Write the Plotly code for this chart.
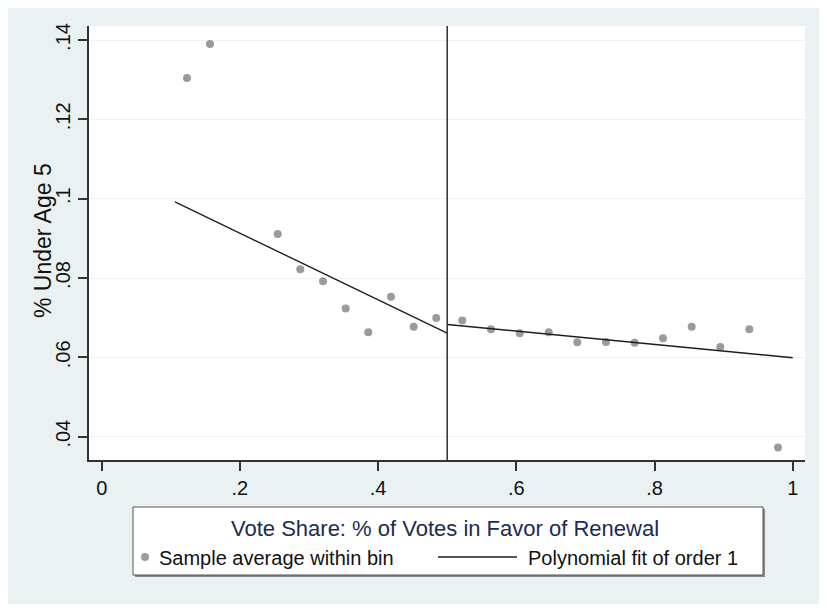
import plotly.graph_objects as go

# ---- data ----
bin_x = [0.1234, 0.1567, 0.2547, 0.2874, 0.3203, 0.3531, 0.3858, 0.4187, 0.4515, 0.4842,
         0.5218, 0.5634, 0.6049, 0.6469, 0.6883, 0.7298, 0.7713, 0.8123, 0.8538, 0.8952,
         0.9372, 0.9787]
bin_y = [0.1304, 0.1390, 0.0911, 0.0822, 0.0792, 0.0723, 0.0663, 0.0753, 0.0677, 0.0699,
         0.0693, 0.0671, 0.0661, 0.0663, 0.0638, 0.0639, 0.0637, 0.0648, 0.0677, 0.0626,
         0.0671, 0.0373]
fit_left_x = [0.106, 0.5]
fit_left_y = [0.0992, 0.0661]
fit_right_x = [0.5, 1.0]
fit_right_y = [0.0683, 0.0599]
cutoff = 0.5

x_ticks = [0, 0.2, 0.4, 0.6, 0.8, 1]
x_tick_labels = ["0", ".2", ".4", ".6", ".8", "1"]
y_ticks = [0.04, 0.06, 0.08, 0.10, 0.12, 0.14]
y_tick_labels = [".04", ".06", ".08", ".1", ".12", ".14"]

x_title = "Vote Share: % of Votes in Favor of Renewal"
y_title = "% Under Age 5"
legend_labels = ["Sample average within bin", "Polynomial fit of order 1"]

# ---- layout geometry (screen pixels; page body adds an 8px offset) ----
OFF = 8
W, H = 827 - OFF, 604 - OFF
L, R, T, B = 89, 805, 26, 460          # plot area in screen pixels
PW, PH = R - L, B - T


def px(x):
    return (x - L) / PW


def py(y):
    return (B - y) / PH


FONT = "Liberation Sans, Arial, sans-serif"
PANEL = "#E9F1F2"
DOT = "#9b9b9b"
LINE = "#1e1e1e"

fig = go.Figure()
fig.add_trace(go.Scatter(x=bin_x, y=bin_y, mode="markers", name=legend_labels[0],
                         marker=dict(color=DOT, size=8, line=dict(width=0)),
                         showlegend=False))
fig.add_trace(go.Scatter(x=fit_left_x, y=fit_left_y, mode="lines", name=legend_labels[1],
                         line=dict(color=LINE, width=1.4), showlegend=False))
fig.add_trace(go.Scatter(x=fit_right_x, y=fit_right_y, mode="lines", name=legend_labels[1],
                         line=dict(color=LINE, width=1.4), showlegend=False))

shapes = []
# cutoff line
shapes.append(dict(type="line", xref="x", yref="paper", x0=cutoff, x1=cutoff, y0=0, y1=1,
                   line=dict(color="#3a3a3a", width=1.6)))
# legend box with shadow
bx0, bx1, by0, by1 = 133, 763, 507, 575
shapes.append(dict(type="rect", xref="paper", yref="paper", x0=px(bx0 + 2), x1=px(bx1 + 2),
                   y0=py(by1 + 2), y1=py(by0 + 2), fillcolor="#8a8a8a", line_width=0))
shapes.append(dict(type="rect", xref="paper", yref="paper", x0=px(bx0), x1=px(bx1),
                   y0=py(by1), y1=py(by0), fillcolor="white",
                   line=dict(color="#555555", width=1)))
# legend symbols
shapes.append(dict(type="circle", xref="paper", yref="paper", x0=px(141), x1=px(149),
                   y0=py(561), y1=py(553), fillcolor=DOT, line_width=0))
shapes.append(dict(type="line", xref="paper", yref="paper", x0=px(438), x1=px(517),
                   y0=py(557), y1=py(557), line=dict(color=LINE, width=1.4)))

annotations = [
    dict(text=y_title, xref="paper", yref="paper", x=px(43), y=py(241),
         xanchor="center", yanchor="middle", textangle=-90, showarrow=False,
         font=dict(family=FONT, size=23, color="#111111")),
    dict(text=x_title, xref="paper", yref="paper", x=px(445), y=py(528),
         xanchor="center", yanchor="middle", showarrow=False,
         font=dict(family=FONT, size=22, color="#1c2b52")),
    dict(text=legend_labels[0], xref="paper", yref="paper", x=px(157), y=py(558),
         xanchor="left", yanchor="middle", showarrow=False,
         font=dict(family=FONT, size=20, color="#111111")),
    dict(text=legend_labels[1], xref="paper", yref="paper", x=px(526), y=py(558),
         xanchor="left", yanchor="middle", showarrow=False,
         font=dict(family=FONT, size=20, color="#111111")),
]

x_range = [-(101.7 - L) / 691, -(101.7 - L) / 691 + PW / 691]
y_range = [0.04 - (B - 436.7) / 3967, 0.04 - (B - 436.7) / 3967 + PH / 3967]

fig.update_layout(
    width=W, height=H,
    margin=dict(l=L - OFF, r=W - (R - OFF), t=T - OFF, b=H - (B - OFF), pad=0),
    paper_bgcolor=PANEL, plot_bgcolor="white",
    font=dict(family=FONT, size=20, color="#111111"),
    shapes=shapes, annotations=annotations, showlegend=False,
    xaxis=dict(range=x_range, tickvals=x_ticks, ticktext=x_tick_labels,
               showgrid=False, zeroline=False, showline=True, linecolor="#333333",
               linewidth=1.5, ticks="outside", ticklen=9, tickwidth=1.5, tickcolor="#333333",
               tickfont=dict(size=20)),
    yaxis=dict(range=y_range, tickvals=y_ticks, ticktext=y_tick_labels, tickangle=-90,
               showgrid=True, gridcolor="#EDF3F4", gridwidth=1.2,
               zeroline=False, showline=True, linecolor="#333333", linewidth=1.5,
               ticks="outside", ticklen=9, tickwidth=1.5, tickcolor="#333333",
               tickfont=dict(size=20)),
)

fig.write_html("out.html")
